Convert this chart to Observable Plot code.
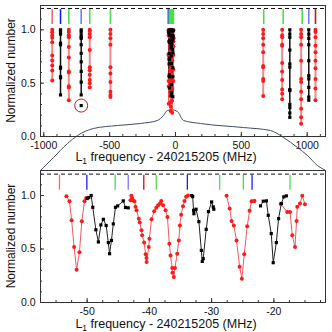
<!DOCTYPE html>
<html><head><meta charset="utf-8">
<script src="https://cdn.jsdelivr.net/npm/d3@7"></script>
<script src="https://cdn.jsdelivr.net/npm/@observablehq/plot@0.6"></script>
<style>
body{margin:0;background:#fff;}
#chart{width:332px;height:332px;position:relative;font-family:"Liberation Sans",Arial,sans-serif;}
#chart svg{display:block;}
</style></head><body><div id="chart"></div>
<script>
// ---------- Top panel: scans (frequency in MHz, normalized number) ----------
const topScanFreq = [-936, -873, -810, -716, -651, -494, 666, 810, 868, 954, 1012, 1063];
const topScanType = ["red","black","red","black","red","red","red","red","black","red","black","red"];
const topScanValues = [
  [1.0,0.978,0.947,0.925,0.884,0.76,0.712,0.665,0.619,0.525],
  [1.0,0.98,0.96,0.875,0.86,0.65,0.64,0.56,0.55,0.39],
  [1.0,0.98,0.95,0.93,0.84,0.74,0.61,0.60,0.47,0.46,0.34],
  [1.0,0.98,0.95,0.93,0.92,0.86,0.78,0.70,0.61,0.51,0.39],
  [1.0,0.99,0.96,0.93,0.81,0.65,0.62,0.58,0.53,0.50,0.46],
  [1.0,0.96,0.92,0.86,0.65,0.59,0.51,0.42,0.39,0.37],
  [1.0,0.96,0.92,0.86,0.79,0.66,0.65,0.54,0.52,0.38],
  [1.0,0.95,0.93,0.86,0.85,0.69,0.61,0.53,0.44,0.40,0.35],
  [1.0,0.96,0.93,0.81,0.68,0.65,0.44,0.43,0.30,0.27,0.22,0.18],
  [1.0,0.96,0.93,0.86,0.71,0.54,0.51,0.42,0.35,0.26,0.18,0.12],
  [1.0,0.96,0.92,0.86,0.71,0.57,0.54,0.46,0.37,0.34],
  [1.0,0.98,0.93,0.85,0.79,0.71,0.64,0.54,0.45,0.34]
];
const circledFreq = [-716];
const circledValue = [0.29];
const topMarkerFreq = [-936,-873,-810,-716,-651,-494,670,818,962,1012,1063];
const topMarkerKind = ["salmon","blue","green","lightblue","green","green","green","green","green","lightblue","red"];

// ---------- Bottom panel (zoom on -57..-12 MHz) ----------
const bottomSegType = ["red","black","red","black","red","black","red"];
const bottomSegFreq = [
  [-53.33,-52.85,-52.5,-52.1,-51.7,-51.24,-50.86,-50.43,-50.16],
  [-50.0,-49.74,-49.36,-49.1,-48.6,-48.2,-47.8,-47.4,-46.95,-46.6,-46.4,-46.1,-45.8,-45.45,-45.1,-44.2,-43.84,-43.4],
  [-43.04,-42.9,-42.77,-42.6,-42.4,-42.23,-42.07,-41.7,-41.54,-41.27,-41.16,-40.84,-40.6,-40.47,-40.45,-40.1,-40.0,-39.66,-39.23,-38.9,-38.6,-38.3,-38.1,-37.8,-37.4,-37.1,-36.8,-36.6,-36.33,-36.3,-36.07,-35.9,-35.53,-35.27,-35.1,-34.9,-34.6,-34.36,-34.1,-33.8],
  [-33.2,-33.05,-32.9,-32.85,-32.5,-32.05,-31.65,-31.5,-31.35,-30.87,-30.5,-30.0,-29.74,-29.65],
  [-27.6,-27.1,-26.8,-26.43,-26.0,-25.5,-25.14,-24.76,-24.28,-23.9,-23.58,-23.2,-23.1],
  [-22.14,-21.7,-21.2,-20.9,-20.42,-20.1,-19.6,-19.24,-18.8,-18.4,-18.0],
  [-18.9,-17.85,-17.4,-17.04,-16.6,-16.35,-16.24,-15.8,-15.43,-15.0]
];
const bottomSegValue = [
  [0.993,0.947,0.77,0.52,0.306,0.47,0.76,0.947,0.978],
  [0.972,0.981,1.0,0.89,0.68,0.566,0.725,0.778,0.72,0.56,0.456,0.58,0.735,0.89,0.903,0.95,0.888,0.885],
  [0.956,0.997,0.978,0.953,0.947,0.894,0.862,0.784,0.747,0.675,0.628,0.56,0.45,0.416,0.379,0.52,0.597,0.778,0.853,0.885,0.91,0.925,0.95,0.91,0.862,0.8,0.55,0.44,0.322,0.278,0.238,0.322,0.456,0.58,0.72,0.82,0.9,0.95,0.988,1.0],
  [1.0,0.99,0.862,0.83,0.872,0.756,0.487,0.384,0.41,0.684,0.85,0.94,0.894,0.872],
  [0.997,0.878,0.763,0.72,0.58,0.335,0.222,0.45,0.712,0.857,0.947,0.95,0.95],
  [0.903,0.947,0.95,0.815,0.644,0.372,0.56,0.784,0.925,0.988,0.997],
  [0.92,0.847,0.847,0.628,0.52,0.763,0.894,0.925,0.997,0.918]
];
const bottomMarkerFreq = [-54.45,-50.05,-45.5,-43.4,-40.9,-38.9,-33.9,-28.7,-24.9,-23.5,-17.4];
const bottomMarkerKind = ["salmon","blue","green","lightblue","red","green","blue","green","green","blue","green"];

// ---------- zoom connector (top-panel data coordinates) ----------
const connectorFreq  = [-1025,-1000,-926,-820,-744,-623,-440,-266,-137,-91,-61,-30,15,61,190,516,721,820,926,1002,1078,1139];
const connectorValue = [-0.318,-0.288,-0.197,-0.066,0.009,0.075,0.103,0.122,0.15,0.197,0.244,0.25,0.234,0.15,0.122,0.084,0.056,-0.009,-0.103,-0.178,-0.272,-0.318];

// ---------- axes ----------
const topXTicks = [-1000,-500,0,500,1000];
const topXMinor = [-1000,-900,-800,-700,-600,-500,-400,-300,-200,-100,0,100,200,300,400,500,600,700,800,900,1000,1100];
const bottomXTicks = [-50,-40,-30,-20];
const bottomXMinor = [-57.5,-55,-52.5,-50,-47.5,-45,-42.5,-40,-37.5,-35,-32.5,-30,-27.5,-25,-22.5,-20,-17.5,-15,-12.5];
const yTicks = [0,0.5,1.0];
const yMinor = [0,0.1,0.2,0.3,0.4,0.5,0.6,0.7,0.8,0.9,1.0,1.1,1.2];
const refLevel = [1.2];
const markerSpan = [1.05, 1.19];

const palette = {salmon:"#f26a6a", red:"#d81010", blue:"#1a1aff", lightblue:"#7878ff", green:"#48e048"};
const drawOrder = {salmon:0, red:1, blue:2, lightblue:3, green:4};
const FONT = "Liberation Sans, Arial, sans-serif";

const scanRows = topScanFreq.flatMap((f,i)=>topScanValues[i].map(v=>({f, v, scan:i, type:topScanType[i]})));
const segRows = bottomSegFreq.flatMap((fs,i)=>fs.map((f,j)=>({f, v:bottomSegValue[i][j], seg:i, type:bottomSegType[i]})));
const topMarkers = topMarkerFreq.map((f,i)=>({f, kind:topMarkerKind[i]}));
const bottomMarkers = bottomMarkerFreq.map((f,i)=>({f, kind:bottomMarkerKind[i]}));
const bottomMarkersLayered = bottomMarkers.slice().sort((a,b)=>drawOrder[a.kind]-drawOrder[b.kind]);
const connector = connectorFreq.map((f,i)=>({f, v:connectorValue[i]}));
const circled = circledFreq.map((f,i)=>({f, v:circledValue[i]}));

function axisMarks(xDomain, yDomain, plotW, plotH, xMajor, xMinorT) {
  const xu = (xDomain[1]-xDomain[0])/plotW, yu = (yDomain[1]-yDomain[0])/plotH;
  return [
    Plot.ruleX(xMajor, {x:d=>d, y1:0, y2:4*yu, stroke:"#333"}),
    Plot.ruleX(xMinorT, {x:d=>d, y1:0, y2:2*yu, stroke:"#333"}),
    Plot.ruleY(yTicks, {y:d=>d, x1:xDomain[0], x2:xDomain[0]+4*xu, stroke:"#333"}),
    Plot.ruleY(yMinor, {y:d=>d, x1:xDomain[0], x2:xDomain[0]+2*xu, stroke:"#333"}),
    Plot.frame({stroke:"#333"})
  ];
}

function addTitles(svg, plotTop, plotBottom, titleBaseline) {
  const s = d3.select(svg);
  const t = s.append("text").attr("x",166).attr("y",titleBaseline).attr("text-anchor","middle")
    .attr("font-size",12.5).attr("font-family",FONT).attr("fill","#111");
  t.append("tspan").text("L");
  t.append("tspan").attr("font-size",8.5).attr("dy",3).text("1");
  t.append("tspan").attr("dy",-3).text(" frequency - 240215205 (MHz)");
  s.append("text").attr("transform",`translate(11,${(plotTop+plotBottom)/2}) rotate(-90)`)
    .attr("text-anchor","middle").attr("dy","0.35em").attr("font-size",12).attr("font-family",FONT)
    .attr("fill","#111").text("Normalized number");
}

const W = 332, ML = 40, MR = 7;
// ---- top ----
const topXDomain = [-1025, 1139], topYDomain = [0, 1.228];
const topH = 168, topMT = 5, topMB = 32;
const topPlot = Plot.plot({
  width: W, height: topH, marginLeft: ML, marginRight: MR, marginTop: topMT, marginBottom: topMB,
  style: {fontFamily: FONT, fontSize: "10.5px", background: "transparent", overflow: "visible", color:"#111"},
  x: {domain: topXDomain, ticks: topXTicks, tickFormat: d=>String(d), tickSize: 0, tickPadding: 5, label: null},
  y: {domain: topYDomain, ticks: yTicks, tickFormat: d=>d.toFixed(1), tickSize: 0, tickPadding: 5, label: null},
  marks: [
    Plot.ruleY(refLevel, {y:d=>d, stroke:"#111", strokeDasharray:"4,3"}),
    Plot.ruleX(topMarkers, {x:"f", y1:markerSpan[0], y2:markerSpan[1], stroke:d=>palette[d.kind], strokeWidth:1.6}),
    Plot.ruleX(bottomMarkersLayered, {x:"f", y1:markerSpan[0], y2:markerSpan[1], stroke:d=>palette[d.kind], strokeWidth:2}),
    Plot.line(connector, {x:"f", y:"v", stroke:"#3d4d6e", strokeWidth:1, curve:"monotone-x"}),
    Plot.line(scanRows.filter(d=>d.type==="red"), {x:"f", y:"v", z:"scan", stroke:"#f28888", strokeWidth:2}),
    Plot.line(scanRows.filter(d=>d.type==="black"), {x:"f", y:"v", z:"scan", stroke:"#111", strokeWidth:1.5}),
    Plot.line(segRows, {x:"f", y:"v", z:"seg", stroke:d=>d.type==="red"?"#f05a5a":"#111", strokeWidth:1}),
    Plot.dot(segRows.filter(d=>d.type==="red"), {x:"f", y:"v", r:2, fill:"#ff1a1a"}),
    Plot.dot(segRows.filter(d=>d.type==="black"), {x:"f", y:"v", r:1.8, symbol:"square", fill:"#000"}),
    Plot.dot(scanRows.filter(d=>d.type==="red"), {x:"f", y:"v", r:2, fill:"#ff1a1a"}),
    Plot.dot(scanRows.filter(d=>d.type==="black"), {x:"f", y:"v", r:1.8, symbol:"square", fill:"#000"}),
    Plot.dot(circled, {x:"f", y:"v", r:1.8, symbol:"square", fill:"#000"}),
    Plot.dot(circled, {x:"f", y:"v", r:6.5, stroke:"#e01010", strokeWidth:1, fill:"none"}),
    ...axisMarks(topXDomain, topYDomain, W-ML-MR, topH-topMT-topMB, topXTicks, topXMinor)
  ]
});
topPlot.style.position = "relative";
topPlot.style.zIndex = "2";
addTitles(topPlot, topMT, topH-topMB, 161);

// ---- bottom ----
const botXDomain = [-57.5, -11.7], botYDomain = [0, 1.234];
const botH = 164, botMT = 2, botMB = 30;
const botPlot = Plot.plot({
  width: W, height: botH, marginLeft: ML, marginRight: MR, marginTop: botMT, marginBottom: botMB,
  style: {fontFamily: FONT, fontSize: "10.5px", background: "transparent", color:"#111"},
  x: {domain: botXDomain, ticks: bottomXTicks, tickFormat: d=>String(d), tickSize: 0, tickPadding: 5, label: null},
  y: {domain: botYDomain, ticks: yTicks, tickFormat: d=>d.toFixed(1), tickSize: 0, tickPadding: 5, label: null},
  marks: [
    Plot.ruleY(refLevel, {y:d=>d, stroke:"#111", strokeDasharray:"4,3"}),
    Plot.ruleX(bottomMarkers, {x:"f", y1:markerSpan[0], y2:markerSpan[1], stroke:d=>palette[d.kind], strokeWidth:1.3}),
    Plot.line(segRows, {x:"f", y:"v", z:"seg", stroke:d=>d.type==="red"?"#f05a5a":"#222", strokeWidth:1}),
    Plot.dot(segRows.filter(d=>d.type==="red"), {x:"f", y:"v", r:2, fill:"#ff1a1a"}),
    Plot.dot(segRows.filter(d=>d.type==="black"), {x:"f", y:"v", r:1.8, symbol:"square", fill:"#000"}),
    ...axisMarks(botXDomain, botYDomain, W-ML-MR, botH-botMT-botMB, bottomXTicks, bottomXMinor)
  ]
});
addTitles(botPlot, botMT, botH-botMB, 160);

const chart = document.getElementById("chart");
chart.appendChild(topPlot);
chart.appendChild(botPlot);
</script>
</body></html>
